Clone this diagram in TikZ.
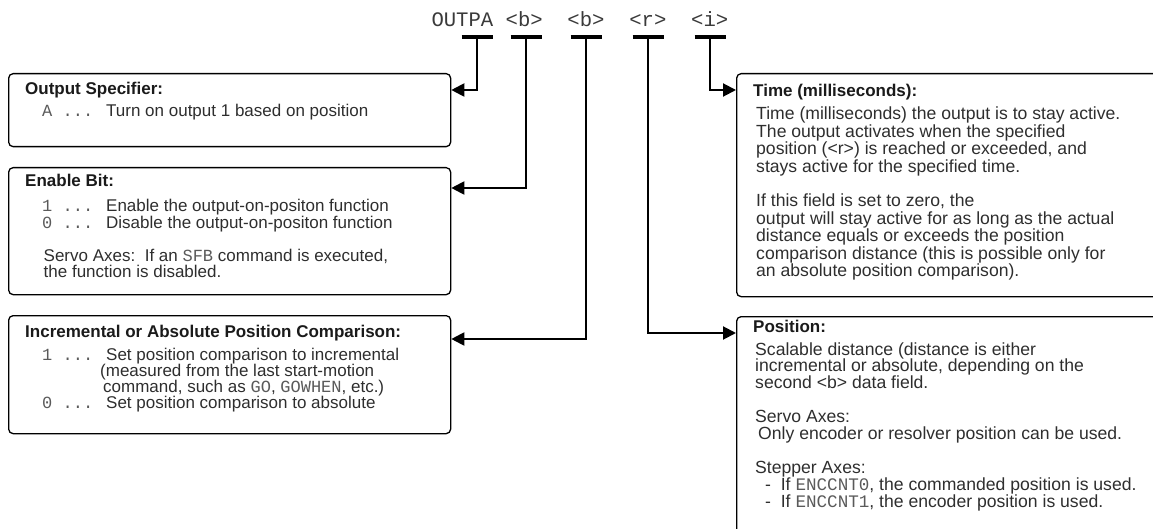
\documentclass[tikz,border=0pt]{standalone}
\usepackage{fontspec}
\setmainfont{Liberation Sans}
\setmonofont{Liberation Mono}
\usetikzlibrary{arrows.meta}
\definecolor{cTxt}{HTML}{2E2E2E}
\definecolor{cTtl}{HTML}{1A1A1A}
\definecolor{cMono}{HTML}{5A5A5A}
\definecolor{cTok}{HTML}{3A3A3A}
\newcommand{\mn}[1]{{\ttfamily\color{cMono}#1}}
\newcommand{\pre}[1]{\makebox[64pt][l]{\mn{#1 ...}}}
\newcommand{\bodytext}[3][17pt]{\parbox[t]{430pt}{\fontsize{#2}{#1}\selectfont\lineskiplimit=-\maxdimen\raggedright #3}}
\tikzset{
  dbox/.style={draw=black, line width=1.3pt, rounded corners=4.5pt, inner sep=0pt, anchor=north west},
  ttlnode/.style={anchor=base west, inner sep=0pt, font=\fontsize{17}{17}\selectfont\bfseries, text=cTtl},
  bodnode/.style={anchor=base west, inner sep=0pt, text=cTxt},
  toknode/.style={anchor=base, inner sep=0pt, font=\ttfamily\fontsize{20.6}{20.6}\selectfont, text=cTok},
  tbar/.style={line width=3.5pt},
  conn/.style={line width=2pt, -{Triangle[length=13pt,width=13pt]}}
}
\begin{document}
\begin{tikzpicture}[x=1pt,y=-1pt]
\useasboundingbox (0,0) rectangle (1153,529);
\clip (0,0) rectangle (1153,529);

% command tokens
\node[toknode] (tO) at (462.4,26.5) {OUTPA};
\node[toknode] (tB1) at (524.2,26.5) {<b>};
\node[toknode] (tB2) at (586,26.5) {<b>};
\node[toknode] (tR) at (647.9,26.5) {<r>};
\node[toknode] (tI) at (709.7,26.5) {<i>};

% stem tops
\coordinate (sO) at (477,37);
\coordinate (sB1) at (526,37);
\coordinate (sB2) at (586,37);
\coordinate (sR) at (648,37);
\coordinate (sI) at (710,37);
\foreach \s in {sO,sB1,sB2,sR,sI}
  \draw[tbar] ([xshift=-15.5pt]\s) -- ([xshift=15.5pt]\s);

% boxes
\node[dbox, minimum width=442pt, minimum height=73pt] (b1) at (8,73) {};
\node[dbox, minimum width=442pt, minimum height=127pt] (b2) at (8,167) {};
\node[dbox, minimum width=442pt, minimum height=118pt] (b3) at (8,315) {};
\node[dbox, minimum width=440pt, minimum height=223pt] (bT) at (736,73) {};
\node[dbox, minimum width=440pt, minimum height=250pt] (bP) at (736,316) {};

% titles
\node[ttlnode] (b1h) at (25,95) {Output Specifier:};
\node[ttlnode] (b2h) at (25,187) {Enable Bit:};
\node[ttlnode] (b3h) at (25,337) {Incremental or Absolute Position Comparison:};
\node[ttlnode] (bTh) at (753,97) {Time (milliseconds):};
\node[ttlnode] (bPh) at (753,332) {Position:};

% bodies
\node[bodnode] (b1x) at (42,117) {\bodytext{17}{\pre{A}Turn on output 1 based on position}};
\node[bodnode] (b2x) at (42,212) {\bodytext[16.5pt]{17}{\pre{1}Enable the output-on-positon function\\
\pre{0}Disable the output-on-positon function\\
\mbox{}\\
\hspace*{1.5pt}Servo Axes:\ \ If an \mn{SFB} command is executed,\\
\hspace*{1.5pt}the function is disabled.}};
\node[bodnode] (b3x) at (42,360) {\bodytext[16pt]{17}{\pre{1}Set position comparison to incremental\\
\hspace*{58pt}(measured from the last start-motion\\
\hspace*{61pt}command, such as \mn{GO}, \mn{GOWHEN}, etc.)\\
\pre{0}Set position comparison to absolute}};
\node[bodnode] (bTx) at (756,120) {\bodytext[17.4pt]{17.6}{Time (milliseconds) the output is to stay active.\\
The output activates when the specified\\
position (<r>) is reached or exceeded, and\\
stays active for the specified time.\\
\mbox{}\\
If this field is set to zero, the\\
output will stay active for as long as the actual\\
distance equals or exceeds the position\\
comparison distance (this is possible only for\\
an absolute position comparison).}};
\node[bodnode] (bPx) at (755,355) {\bodytext[16.9pt]{17.6}{Scalable distance (distance is either\\
incremental or absolute, depending on the\\
second <b> data field.\\
\mbox{}\\
Servo Axes:\\
\hspace*{3pt}Only encoder or resolver position can be used.\\
\mbox{}\\
Stepper Axes:\\
\hspace*{10pt}- \ If \mn{ENCCNT0}, the commanded position is used.\\
\hspace*{10pt}- \ If \mn{ENCCNT1}, the encoder position is used.}};

% connectors
\draw[conn] (sO) |- ([yshift=-17pt]b1.north east);
\draw[conn] (sB1) |- ([yshift=-21pt]b2.north east);
\draw[conn] (sB2) |- ([yshift=-24pt]b3.north east);
\draw[conn] (sI) |- ([yshift=-17pt]bT.north west);
\draw[conn] (sR) |- ([yshift=-17pt]bP.north west);
\end{tikzpicture}
\end{document}
